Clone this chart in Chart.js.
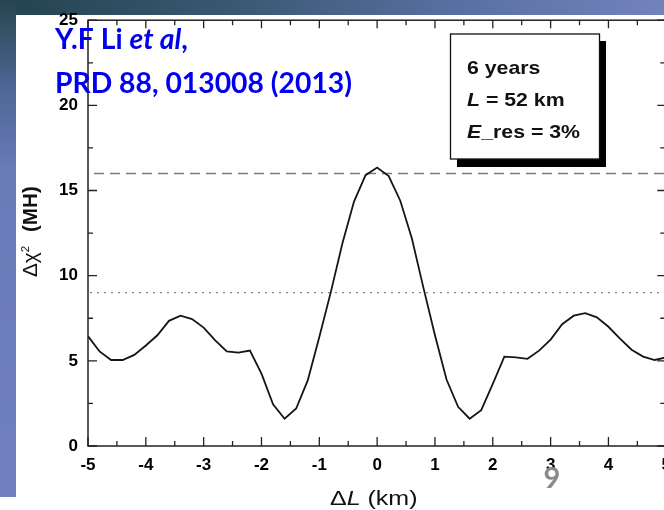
<!DOCTYPE html>
<html lang="en">
<head>
  <meta charset="UTF-8" />
  <title>Δχ² (MH) vs ΔL</title>
  <style>
    html, body { margin: 0; padding: 0; overflow: hidden; background: #fff; }
    body { width: 664px; height: 510px; position: relative; }
    #topband { position: absolute; left: 0; top: 0; width: 664px; height: 15px;
      background: linear-gradient(to right, #24434f 0%, #3a5872 35%, #5a70a4 70%, #7283bb 100%); }
    #leftband { position: absolute; left: 0; top: 0; width: 16px; height: 497px;
      background: linear-gradient(to bottom, #26454f 0%, #4f6796 18%, #6a7bba 35%, #6f7fc0 100%); }
    #chart { position: absolute; left: 0; top: 0; }
  </style>
</head>
<body>
  <div id="topband"></div>
  <div id="leftband"></div>
  <canvas id="chart" width="680" height="510"></canvas>

  <script src="https://cdn.jsdelivr.net/npm/chart.js"></script>
  <script>
    // data (ΔL in km, Δχ²(MH))
    const deltaL = [-5.0, -4.8, -4.6, -4.4, -4.2, -4.0, -3.8, -3.6, -3.4, -3.2,
                    -3.0, -2.8, -2.6, -2.4, -2.2, -2.0, -1.8, -1.6, -1.4, -1.2,
                    -1.0, -0.8, -0.6, -0.4, -0.2, 0.0, 0.2, 0.4, 0.6, 0.8,
                    1.0, 1.2, 1.4, 1.6, 1.8, 2.0, 2.2, 2.4, 2.6, 2.8,
                    3.0, 3.2, 3.4, 3.6, 3.8, 4.0, 4.2, 4.4, 4.6, 4.8, 5.0];
    const chi2MH = [6.45, 5.55, 5.05, 5.05, 5.35, 5.9, 6.5, 7.35, 7.65, 7.45,
                    6.95, 6.2, 5.55, 5.48, 5.6, 4.25, 2.45, 1.6, 2.2, 3.85,
                    6.4, 9.05, 11.9, 14.35, 15.9, 16.35, 15.85, 14.4, 12.2, 9.3,
                    6.5, 3.9, 2.3, 1.6, 2.1, 3.65, 5.25, 5.2, 5.12, 5.6,
                    6.25, 7.15, 7.65, 7.8, 7.55, 7.0, 6.3, 5.65, 5.25, 5.05, 5.2];
    const dashedLevel = [16, 16];
    const dottedLevel = [9, 9];
    const levelRange = [-5, 5];
    const xTickValues = [-5, -4, -3, -2, -1, 0, 1, 2, 3, 4, 5];
    const yTickValues = [0, 5, 10, 15, 20, 25];
    const boxLines = ['6 years', 'L = 52 km', 'E_res = 3%'];

    Chart.defaults.font.family = "'Liberation Sans', Arial, sans-serif";

    // draws a run of text pieces with different fonts, stretched by sx
    function drawParts(ctx, parts, x, y, sx) {
      ctx.save();
      ctx.translate(x, y);
      ctx.scale(sx, 1);
      let cx = 0;
      parts.forEach(p => {
        ctx.font = p.font;
        ctx.fillText(p.text, cx, p.dy || 0);
        cx += ctx.measureText(p.text).width + (p.gap || 0);
      });
      ctx.restore();
    }

    // frame with inward ticks on all four sides
    const framePlugin = {
      id: 'frame',
      afterDatasetsDraw(chart) {
        const { ctx, chartArea: a, scales: { x, y } } = chart;
        ctx.save();
        ctx.strokeStyle = '#222';
        ctx.lineWidth = 1.5;
        ctx.strokeRect(a.left, a.top, a.right - a.left, a.bottom - a.top);
        ctx.lineWidth = 1.3;
        ctx.beginPath();
        xTickValues.forEach((v, i) => {
          const px = x.getPixelForValue(v);
          ctx.moveTo(px, a.bottom); ctx.lineTo(px, a.bottom - 9);
          ctx.moveTo(px, a.top); ctx.lineTo(px, a.top + 8);
          if (i < xTickValues.length - 1) {
            const pm = x.getPixelForValue((v + xTickValues[i + 1]) / 2);
            ctx.moveTo(pm, a.bottom); ctx.lineTo(pm, a.bottom - 5);
            ctx.moveTo(pm, a.top); ctx.lineTo(pm, a.top + 5);
          }
        });
        yTickValues.forEach((v, i) => {
          const py = y.getPixelForValue(v);
          ctx.moveTo(a.left, py); ctx.lineTo(a.left + 9, py);
          ctx.moveTo(a.right, py); ctx.lineTo(a.right - 9, py);
          if (i < yTickValues.length - 1) {
            const pm = y.getPixelForValue((v + yTickValues[i + 1]) / 2);
            ctx.moveTo(a.left, pm); ctx.lineTo(a.left + 5, pm);
            ctx.moveTo(a.right, pm); ctx.lineTo(a.right - 6, pm);
          }
        });
        ctx.stroke();
        ctx.restore();
      }
    };

    // text box, citation, axis titles, slide number
    const notesPlugin = {
      id: 'notes',
      afterDraw(chart) {
        const ctx = chart.ctx;
        ctx.save();
        ctx.textBaseline = 'alphabetic';

        // box with drop shadow
        ctx.fillStyle = '#000';
        ctx.fillRect(457, 41, 149, 126);
        ctx.fillStyle = '#fff';
        ctx.fillRect(450.5, 34, 149, 125);
        ctx.strokeStyle = '#111';
        ctx.lineWidth = 1.3;
        ctx.strokeRect(450.5, 34, 149, 125);

        ctx.fillStyle = '#111';
        const b = "bold 19px 'Liberation Sans', Arial";
        const bi = "italic bold 19px 'Liberation Sans', Arial";
        drawParts(ctx, [{ text: boxLines[0], font: b }], 467, 74, 1.12);
        drawParts(ctx, [{ text: boxLines[1].slice(0, 1), font: bi }, { text: boxLines[1].slice(1), font: b }], 467, 106, 1.12);
        drawParts(ctx, [{ text: boxLines[2].slice(0, 1), font: bi }, { text: boxLines[2].slice(1), font: b }], 467, 138, 1.12);

        // citation in blue
        ctx.fillStyle = '#0000ee';
        const cb = "bold 28px Lato, 'Open Sans', sans-serif";
        const cbi = "italic bold 28px Lato, 'Open Sans', sans-serif";
        ctx.font = cb;
        const line2 = 'PRD 88, 013008 (2013)';
        const sx = 297 / ctx.measureText(line2).width;
        drawParts(ctx, [{ text: 'Y.F Li ', font: cb }, { text: 'et al', font: cbi }, { text: ',', font: cb }], 55, 49, sx);
        drawParts(ctx, [{ text: line2, font: cb }], 55, 93, sx);

        // x axis title
        ctx.fillStyle = '#111';
        drawParts(ctx, [
          { text: 'Δ', font: "20px 'Liberation Sans', Arial" },
          { text: 'L', font: "italic 20px 'Liberation Sans', Arial" },
          { text: ' (km)', font: "20px 'Liberation Sans', Arial" }
        ], 330, 505, 1.25);

        // y axis title, rotated
        ctx.save();
        ctx.translate(37, 277);
        ctx.rotate(-Math.PI / 2);
        ctx.scale(1.15, 1.1);
        let cx = 0;
        [
          { text: 'Δχ', font: "18px 'Liberation Sans', Arial" },
          { text: '2', font: "10px 'Liberation Sans', Arial", dy: -7, gap: 7 },
          { text: ' (MH)', font: "bold 18px 'Liberation Sans', Arial" }
        ].forEach(p => {
          ctx.font = p.font;
          ctx.fillText(p.text, cx, p.dy || 0);
          cx += ctx.measureText(p.text).width + (p.gap || 0);
        });
        ctx.restore();

        // slide number
        ctx.fillStyle = '#8a8a8a';
        ctx.font = "bold 29px Lato, 'Open Sans', sans-serif";
        ctx.textAlign = 'center';
        ctx.fillText('9', 552, 488);
        ctx.restore();
      }
    };

    const curve = deltaL.map((v, i) => ({ x: v, y: chi2MH[i] }));
    const dashed = levelRange.map((v, i) => ({ x: v, y: dashedLevel[i] }));
    const dotted = levelRange.map((v, i) => ({ x: v, y: dottedLevel[i] }));

    new Chart(document.getElementById('chart'), {
      type: 'line',
      data: {
        datasets: [
          { data: curve, borderColor: '#151515', borderWidth: 1.8, pointRadius: 0, tension: 0, fill: false },
          { data: dashed, borderColor: '#7a7a7a', borderWidth: 1.4, borderDash: [10, 6], borderDashOffset: 10, pointRadius: 0 },
          { data: dotted, borderColor: '#858585', borderWidth: 1.3, borderDash: [2, 5], borderDashOffset: 5, pointRadius: 0 }
        ]
      },
      options: {
        responsive: false,
        animation: false,
        layout: { padding: { left: 0, right: 12, top: 20, bottom: 0 } },
        plugins: { legend: { display: false }, tooltip: { enabled: false } },
        scales: {
          x: {
            type: 'linear', min: -5, max: 5,
            afterBuildTicks: s => { s.ticks = xTickValues.map(v => ({ value: v })); },
            afterFit: s => { s.height = 64; },
            grid: { display: false, drawTicks: false },
            border: { display: false },
            ticks: { padding: 9, color: '#000', maxRotation: 0, autoSkip: false,
                     font: { size: 17, weight: 'bold' }, callback: v => String(v) }
          },
          y: {
            type: 'linear', min: 0, max: 25,
            afterBuildTicks: s => { s.ticks = yTickValues.map(v => ({ value: v })); },
            afterFit: s => { s.width = 88; },
            grid: { display: false, drawTicks: false },
            border: { display: false },
            ticks: { padding: 10, color: '#000', font: { size: 17, weight: 'bold' }, callback: v => String(v) }
          }
        }
      },
      plugins: [framePlugin, notesPlugin]
    });
  </script>
</body>
</html>
